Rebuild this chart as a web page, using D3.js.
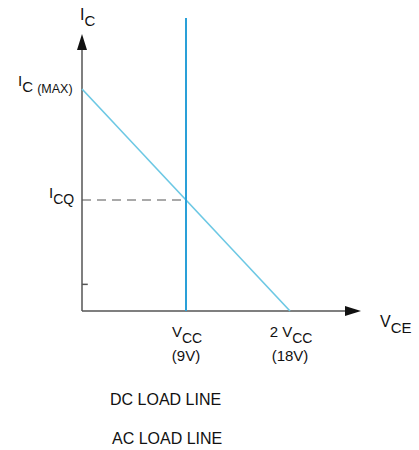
<!DOCTYPE html>
<meta charset="utf-8">
<style>
body { margin: 0; background: #fff; }
svg text { font-family: "Liberation Sans", Arial, sans-serif; fill: #111; }
.axis { stroke: #555; stroke-width: 1.5px; fill: none; }
.dcline { stroke: #6cc8e4; stroke-width: 1.6px; fill: none; }
.acline { stroke: #2aa0d8; stroke-width: 2px; fill: none; }
.quiescent { stroke: #555; stroke-width: 1.2px; stroke-dasharray: 9,6; fill: none; }
</style>
<body>
<svg width="419" height="450"></svg>
<script src="https://d3js.org/d3.v7.min.js"></script>
<script>

// values (Vce in volts, Ic relative to Ic(max))
var vcc = 9,
    icMax = 1;
var loadLine = [[0, icMax], [2 * vcc, 0]];
var qPoint = [vcc, icMax / 2];
var acTop = 1.32;
var xTickValues = [vcc, 2 * vcc];
var xTickTop = ["V|CC", "2 V|CC"];
var xTickBottom = ["(9V)", "(18V)"];
var smallTick = 0.12;

var svg = d3.select("svg");

var x = d3.scaleLinear().domain([0, 18]).range([82, 290]);
var y = d3.scaleLinear().domain([0, 1]).range([311, 89]);

var line = d3.line().x(function(d) { return x(d[0]); }).y(function(d) { return y(d[1]); });

// axes
svg.append("path").attr("class", "axis")
    .attr("d", line([[0, 0], [0, 1.2]]));
svg.append("path").attr("class", "axis")
    .attr("d", line([[0, 0], [23.3, 0]]));
svg.append("path").attr("class", "axis")
    .attr("d", line([[0, smallTick], [0.5, smallTick]]));

// arrow heads
svg.append("path").attr("fill", "#111")
    .attr("d", "M" + x(0) + "," + 34 + "L" + (x(0) - 5) + "," + 50 + "L" + (x(0) + 5) + "," + 50 + "Z");
svg.append("path").attr("fill", "#111")
    .attr("d", "M" + 361 + "," + y(0) + "L" + 345 + "," + (y(0) - 5) + "L" + 345 + "," + (y(0) + 5) + "Z");

// Icq dashed
svg.append("path").attr("class", "quiescent")
    .attr("d", line([[0, qPoint[1]], qPoint]));

// DC load line
svg.append("path").attr("class", "dcline").attr("d", line(loadLine));

// vertical line at Vcc
svg.append("path").attr("class", "acline")
    .attr("d", line([[vcc, 0], [vcc, acTop]]));

// label with subscript helper
function subLabel(px, py, main, sub, anchor, size) {
  var t = svg.append("text").attr("x", px).attr("y", py)
      .attr("text-anchor", anchor || "start")
      .style("font-size", (size || 15) + "px");
  t.append("tspan").text(main);
  t.append("tspan").attr("dy", 6).style("font-size", ((size || 15) - 1) + "px").text(sub);
  return t;
}

subLabel(80, 20, "I", "C", "start", 16);
var tm = svg.append("text").attr("x", 18).attr("y", 86).style("font-size", "15px");
tm.append("tspan").text("I");
tm.append("tspan").attr("dy", 6).style("font-size", "15px").text("C ");
tm.append("tspan").attr("dy", 1).style("font-size", "12.5px").text("(MAX)");
subLabel(49, 198, "I", "CQ");
subLabel(380, 327, "V", "CE", "start", 16);

xTickValues.forEach(function(v, i) {
  var parts = xTickTop[i].split("|");
  subLabel(x(v) + 1, 337, parts[0], parts[1], "middle", 15);
  svg.append("text").attr("x", x(v)).attr("y", 361)
      .attr("text-anchor", "middle").style("font-size", "15px").text(xTickBottom[i]);
});

svg.append("text").attr("x", 110).attr("y", 405)
    .style("font-size", "16px").text("DC LOAD LINE");
svg.append("text").attr("x", 112).attr("y", 444)
    .style("font-size", "16px").text("AC LOAD LINE");

</script>
